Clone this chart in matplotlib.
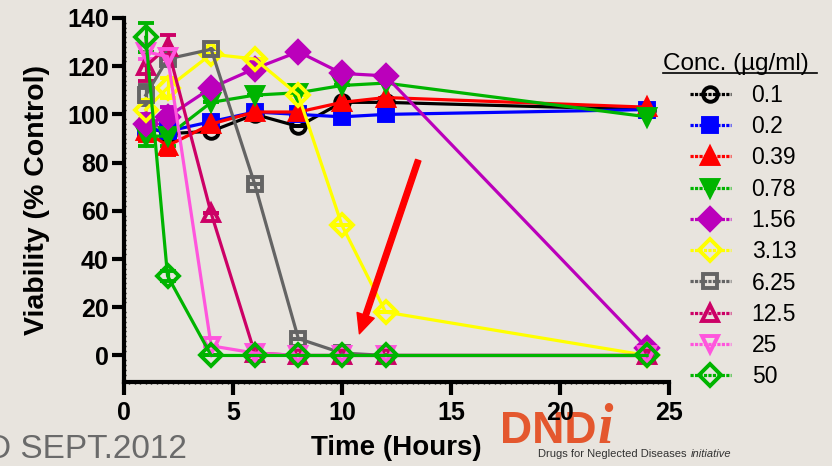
import matplotlib.pyplot as plt
from matplotlib.lines import Line2D
from matplotlib.ticker import MultipleLocator

# time points (hours)
hours = [1, 2, 4, 6, 8, 10, 12, 24]

# concentrations and viability (% control)
conc = ["0.1", "0.2", "0.39", "0.78", "1.56", "3.13", "6.25", "12.5", "25", "50"]
v_01 = [95, 92, 93, 100, 95, 105, 105, 102]
v_02 = [94, 93, 97, 101, 100, 99, 100, 102]
v_039 = [93, 87, 96, 101, 101, 105, 107, 103]
v_078 = [91, 91, 105, 108, 109, 112, 113, 99]
v_156 = [96, 99, 111, 119, 126, 117, 116, 3]
v_313 = [102, 111, 125, 123, 108, 54, 18, 0]
v_625 = [108, 123, 127, 71, 7, 1, 0, 0]
v_125 = [120, 128, 59, 1, 0, 0, 0, 0]
v_25 = [126, 124, 4, 1, 0, 0, 0, 0]
v_50 = [132, 33, 0, 0, 0, 0, 0, 0]
values = [v_01, v_02, v_039, v_078, v_156, v_313, v_625, v_125, v_25, v_50]

# error bars (mostly visible only at early time points)
e_01 = [3, 2, 0, 0, 0, 0, 0, 0]
e_02 = [3, 2, 0, 0, 0, 0, 0, 0]
e_039 = [4, 4, 0, 0, 0, 0, 0, 0]
e_078 = [4, 4, 0, 0, 0, 0, 0, 0]
e_156 = [4, 4, 0, 0, 0, 0, 0, 0]
e_313 = [4, 4, 0, 0, 0, 0, 0, 0]
e_625 = [4, 2, 0, 0, 0, 0, 0, 0]
e_125 = [6, 5, 0, 0, 0, 0, 0, 0]
e_25 = [3, 3, 0, 0, 0, 0, 0, 0]
e_50 = [6, 2, 0, 0, 0, 0, 0, 0]
errors = [e_01, e_02, e_039, e_078, e_156, e_313, e_625, e_125, e_25, e_50]

colors = ["#000000", "#0000FF", "#FF0000", "#00B400", "#BB00BB",
          "#FFFF00", "#646464", "#CC0066", "#FF55DD", "#00B400"]
markers = ["o", "s", "^", "v", "D", "D", "s", "^", "v", "D"]
filled = [False, True, True, True, True, False, False, False, False, False]

bg = "#E8E4DE"
plt.rcParams["font.family"] = ["Liberation Sans", "DejaVu Sans"]

fig = plt.figure(figsize=(8.32, 4.66), dpi=100, facecolor=bg)
ax = fig.add_axes([0.149, 0.1803, 0.655, 0.7811])
ax.set_facecolor("none")

handles = []
for lab, y, err, c, m, f in zip(conc, values, errors, colors, markers, filled):
    ms = 10.5 if m in ("s", "o") else 11.5
    kw = dict(color=c, marker=m, lw=2.3, ms=ms, mew=2.8,
              mfc=c if f else "none", mec=c)
    ax.errorbar(hours, y, yerr=err, capsize=5.5, capthick=3, elinewidth=2.3,
                **kw)
    handles.append(Line2D([], [], ls=(0, (1, 0.4)), label=lab, **kw))

ax.set_xlim(0, 25)
ax.set_ylim(-11, 140)
ax.xaxis.set_major_locator(MultipleLocator(5))
ax.xaxis.set_minor_locator(MultipleLocator(0.25))
ax.yaxis.set_major_locator(MultipleLocator(20))
ax.yaxis.set_minor_locator(MultipleLocator(2))

for s in ["top", "right"]:
    ax.spines[s].set_visible(False)
for s in ["left", "bottom"]:
    ax.spines[s].set_linewidth(3)
ax.tick_params(which="major", length=9, width=3, direction="out")
ax.tick_params(axis="y", which="major", pad=2)
ax.tick_params(axis="x", which="major", pad=5)
ax.tick_params(which="minor", length=3, width=1, direction="inout")
for t in ax.get_xticklabels() + ax.get_yticklabels():
    t.set_fontweight("bold")
    t.set_fontsize(18)

ax.set_xlabel("Time (Hours)", fontsize=20, fontweight="bold", labelpad=7)
ax.set_ylabel("Viability (% Control)", fontsize=20.5, fontweight="bold",
              labelpad=12)

# red arrow
arrow_tail = (13.5, 81)
arrow_head = (10.8, 9)
ax.annotate("", xy=arrow_head, xytext=arrow_tail,
            arrowprops=dict(color="#FF0000", width=4, headwidth=13,
                            headlength=14, shrink=0))

# legend
fig.text(0.797, 1 - 70 / 466, "Conc. (µg/ml)", fontsize=17.5,
         ha="left", va="baseline")
fig.add_artist(Line2D([0.797, 0.982], [1 - 73 / 466, 1 - 73 / 466],
                      color="black", lw=1.2))
leg = fig.legend(handles=handles, loc="upper left",
                 bbox_to_anchor=(0.829, 1 - 84 / 466), frameon=False,
                 fontsize=16.5, handlelength=1.8, handletextpad=0.9,
                 labelspacing=0.36, borderaxespad=0, borderpad=0)

# footer text
fig.text(-13 / 832, 8 / 466, "D SEPT.2012", fontsize=24, color="#6A6A6A",
         ha="left", va="baseline")
fig.text(500 / 832, 23 / 466, "DND", fontsize=32, color="#E4572E",
         fontweight="bold", ha="left", va="baseline", zorder=-1)
fig.text(598 / 832, 23 / 466, "i", fontsize=40, color="#E4572E",
         style="italic", fontweight="bold", family="Liberation Serif",
         ha="left", va="baseline", zorder=-1)
fig.text(538 / 832, 12 / 466, "Drugs for Neglected Diseases",
         fontsize=8, color="#333333", ha="left", va="center")
fig.text(691 / 832, 12 / 466, "initiative",
         fontsize=8, color="#333333", style="italic", ha="left", va="center")

fig.savefig("out.png", dpi=100, facecolor=bg)
